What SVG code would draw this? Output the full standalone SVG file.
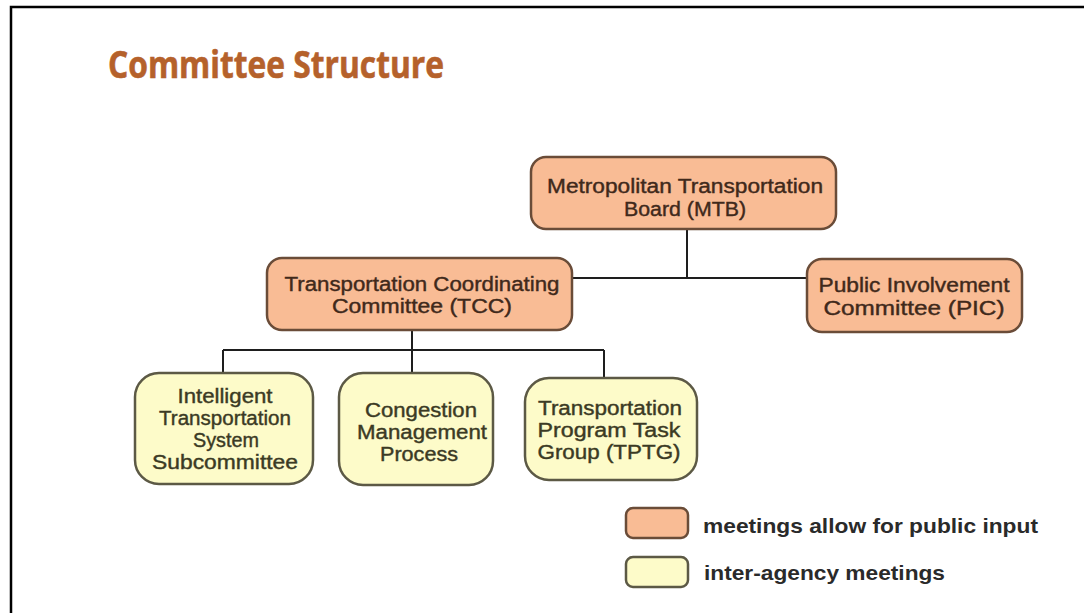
<svg xmlns="http://www.w3.org/2000/svg" width="1084" height="613" viewBox="0 0 1084 613">
  <style>
    .frame { stroke: #000; stroke-width: 2.5; fill: none; }
    .title { font-family: "Open Sans", "Liberation Sans", sans-serif; font-weight: 700; font-size: 37px; fill: #B5612B; stroke: #B5612B; stroke-width: 0.6; }
    .pub rect { fill: #F9BC95; stroke: #6A4C38; stroke-width: 2.5; }
    .agency rect { fill: #FDFBC9; stroke: #5C5945; stroke-width: 2.5; }
    .lbl { font-family: "Liberation Sans", Arial, sans-serif; font-size: 20px; text-anchor: middle; stroke-width: 0.4; }
    .pub .lbl { fill: #40291B; stroke: #40291B; }
    .agency .lbl { fill: #3B3A24; stroke: #3B3A24; }
    .wire { stroke: #1E1E1E; stroke-width: 2; fill: none; }
    .legend-text { font-family: "Liberation Sans", Arial, sans-serif; font-weight: 700; font-size: 21px; fill: #2A2A2A; }
  </style>

  <rect width="1084" height="613" fill="#FFFFFF"/>
  <path class="frame" d="M11 613 V7 H1084"/>

  <text class="title" x="108" y="78" textLength="336" lengthAdjust="spacingAndGlyphs">Committee Structure</text>

  <!-- connectors -->
  <g id="connectors">
    <path class="wire" d="M687 229 V278"/>
    <path class="wire" d="M572 278 H807"/>
    <path class="wire" d="M412 330 V350"/>
    <path class="wire" d="M223 350 H604"/>
    <path class="wire" d="M223 350 V373"/>
    <path class="wire" d="M412 350 V373"/>
    <path class="wire" d="M604 350 V378"/>
  </g>

  <g id="mtb" class="pub">
    <rect x="531" y="157" width="305" height="72" rx="15"/>
    <text class="lbl" x="685" y="193" textLength="276" lengthAdjust="spacingAndGlyphs">Metropolitan Transportation</text>
    <text class="lbl" x="685" y="216" textLength="122" lengthAdjust="spacingAndGlyphs">Board (MTB)</text>
  </g>

  <g id="tcc" class="pub">
    <rect x="267" y="258" width="305" height="72" rx="15"/>
    <text class="lbl" x="422" y="291" textLength="275" lengthAdjust="spacingAndGlyphs">Transportation Coordinating</text>
    <text class="lbl" x="422" y="313" textLength="180" lengthAdjust="spacingAndGlyphs">Committee (TCC)</text>
  </g>

  <g id="pic" class="pub">
    <rect x="807" y="259" width="215" height="73" rx="15"/>
    <text class="lbl" x="914" y="292" textLength="191" lengthAdjust="spacingAndGlyphs">Public Involvement</text>
    <text class="lbl" x="914" y="315" textLength="181" lengthAdjust="spacingAndGlyphs">Committee (PIC)</text>
  </g>

  <g id="its" class="agency">
    <rect x="135" y="373" width="178" height="111" rx="24"/>
    <text class="lbl" x="225" y="403" textLength="95" lengthAdjust="spacingAndGlyphs">Intelligent</text>
    <text class="lbl" x="225" y="425" textLength="132" lengthAdjust="spacingAndGlyphs">Transportation</text>
    <text class="lbl" x="226" y="447" textLength="66" lengthAdjust="spacingAndGlyphs">System</text>
    <text class="lbl" x="225" y="469" textLength="146" lengthAdjust="spacingAndGlyphs">Subcommittee</text>
  </g>

  <g id="cmp" class="agency">
    <rect x="339" y="373" width="154" height="112" rx="24"/>
    <text class="lbl" x="421" y="417" textLength="112" lengthAdjust="spacingAndGlyphs">Congestion</text>
    <text class="lbl" x="422" y="439" textLength="130" lengthAdjust="spacingAndGlyphs">Management</text>
    <text class="lbl" x="419" y="461" textLength="78" lengthAdjust="spacingAndGlyphs">Process</text>
  </g>

  <g id="tptg" class="agency">
    <rect x="525" y="378" width="172" height="102" rx="24"/>
    <text class="lbl" x="610" y="415" textLength="144" lengthAdjust="spacingAndGlyphs">Transportation</text>
    <text class="lbl" x="609" y="437" textLength="143" lengthAdjust="spacingAndGlyphs">Program Task</text>
    <text class="lbl" x="609" y="459" textLength="143" lengthAdjust="spacingAndGlyphs">Group (TPTG)</text>
  </g>

  <g id="legend">
    <g class="pub"><rect x="626" y="508" width="62" height="30" rx="7"/></g>
    <text class="legend-text" x="703" y="533" textLength="335" lengthAdjust="spacingAndGlyphs">meetings allow for public input</text>
    <g class="agency"><rect x="626" y="557" width="62" height="30" rx="7"/></g>
    <text class="legend-text" x="704" y="580" textLength="241" lengthAdjust="spacingAndGlyphs">inter-agency meetings</text>
  </g>
</svg>
